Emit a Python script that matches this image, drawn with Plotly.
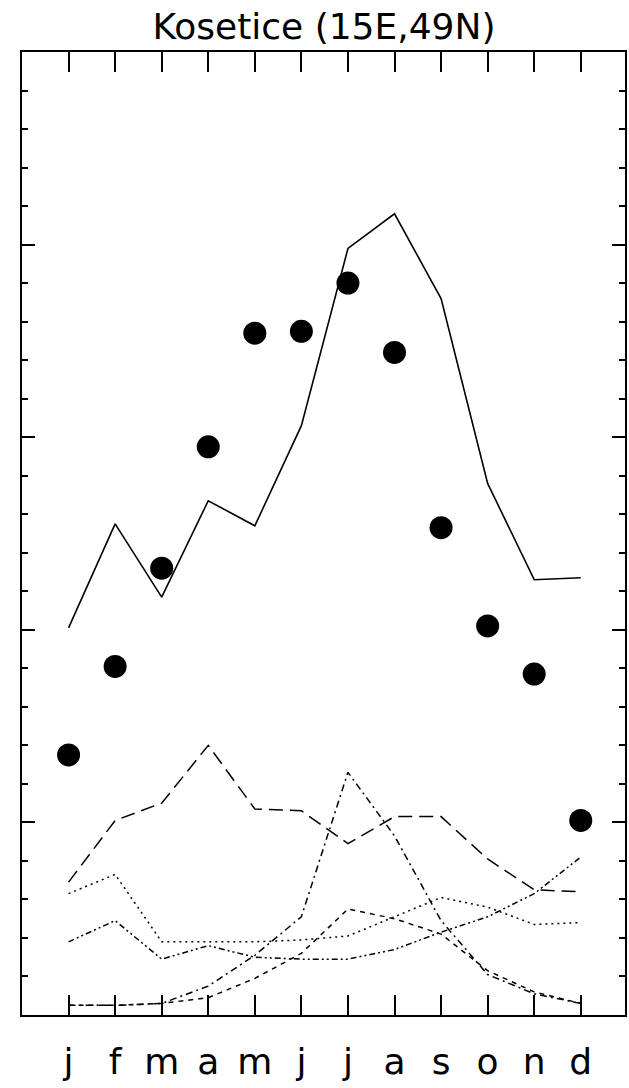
import plotly.graph_objects as go

months = [1, 2, 3, 4, 5, 6, 7, 8, 9, 10, 11, 12]
month_labels = ["j", "f", "m", "a", "m", "j", "j", "a", "s", "o", "n", "d"]

# observed (filled circles)
observed = [1.35, 1.81, 2.32, 2.95, 3.54, 3.55, 3.80, 3.44, 2.53, 2.02, 1.77, 1.01]
# model total (solid line)
model_total = [2.01, 2.55, 2.17, 2.67, 2.54, 3.06, 3.98, 4.16, 3.72, 2.76, 2.26, 2.27]
# components
comp_longdash = [0.69, 1.01, 1.10, 1.40, 1.07, 1.06, 0.89, 1.03, 1.03, 0.81, 0.65, 0.64]
comp_dashdot = [0.05, 0.05, 0.06, 0.15, 0.31, 0.51, 1.26, 0.93, 0.49, 0.21, 0.11, 0.06]
comp_dotted = [0.63, 0.73, 0.38, 0.38, 0.38, 0.39, 0.41, 0.51, 0.61, 0.56, 0.47, 0.48]
comp_dashdotdot = [0.38, 0.49, 0.29, 0.36, 0.30, 0.29, 0.29, 0.34, 0.43, 0.51, 0.63, 0.82]
comp_dashed = [0.05, 0.05, 0.06, 0.09, 0.19, 0.32, 0.55, 0.50, 0.42, 0.23, 0.12, 0.06]

title_text = "Kosetice (15E,49N)"

fig = go.Figure()

def add_line(y, dash, width=1.5):
    fig.add_trace(go.Scatter(x=months, y=y, mode="lines",
                             line=dict(color="black", width=width, dash=dash),
                             showlegend=False, hoverinfo="skip"))

add_line(comp_longdash, "14px,7px")
add_line(comp_dashdot, "7px,4px,2px,4px")
add_line(comp_dotted, "2px,4px")
add_line(comp_dashdotdot, "6px,3px,2px,3px,2px,3px")
add_line(comp_dashed, "5px,5px")
add_line(model_total, "solid", 1.6)

fig.add_trace(go.Scatter(x=months, y=observed, mode="markers",
                         marker=dict(color="black", size=23, line=dict(width=0)),
                         showlegend=False, hoverinfo="skip"))

fig.update_layout(
    width=629, height=1088,
    margin=dict(l=22, r=2, t=52, b=73),
    paper_bgcolor="white", plot_bgcolor="white",
    font=dict(family="DejaVu Sans", color="black"),
    title=dict(text=title_text, x=0.515, xanchor="center",
               y=1 - 26 / 1088, yanchor="middle", yref="container",
               font=dict(size=36, color="black", family="DejaVu Sans")),
    showlegend=False,
)

fig.update_xaxes(
    range=[0, 12.95], tickvals=months, ticktext=month_labels,
    ticks="inside", ticklen=20, tickwidth=1.5, tickcolor="black",
    showline=True, linewidth=2, linecolor="black", mirror="ticks",
    showgrid=False, zeroline=False,
    tickfont=dict(size=36, color="black", family="DejaVu Sans"),
    ticklabelstandoff=14,
)
fig.update_yaxes(
    range=[0, 5], tick0=0, dtick=1,
    ticks="inside", ticklen=13, tickwidth=1.5, tickcolor="black",
    showticklabels=False,
    showline=True, linewidth=2, linecolor="black", mirror="ticks",
    showgrid=False, zeroline=False,
    minor=dict(ticks="inside", ticklen=6, dtick=0.2, tickcolor="black", tickwidth=1.5, showgrid=False),
)

fig.write_html("out.html")
